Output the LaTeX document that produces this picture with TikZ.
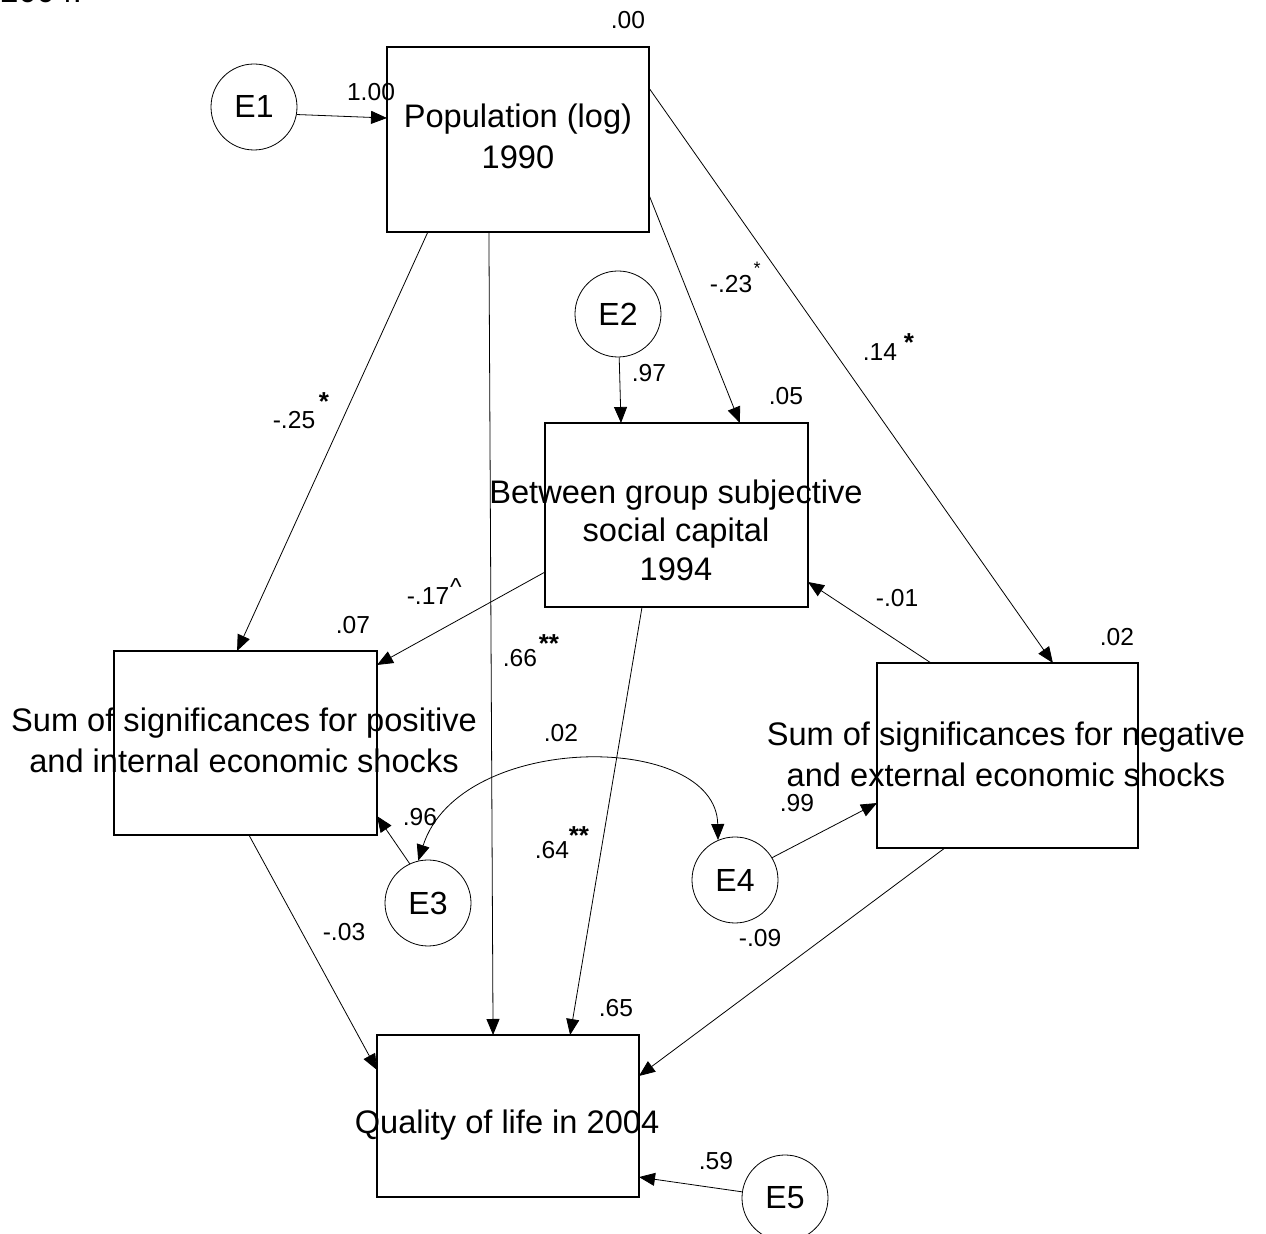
\documentclass[tikz,border=0pt]{standalone}
\usepackage{fontspec}
\setmainfont{Liberation Sans}
\usetikzlibrary{arrows.meta,calc}
\begin{document}
\begin{tikzpicture}[x=0.5pt,y=-0.5pt,
  box/.style={draw, line width=0.6pt, inner sep=0pt, outer sep=0pt, anchor=north west},
  err/.style={draw, circle, line width=0.4pt, minimum size=43pt, inner sep=0pt, font=\fontsize{16}{19}\selectfont},
  main/.style={font=\fontsize{16.3}{20.5}\selectfont, align=center, inner sep=0pt},
  lab/.style={font=\fontsize{12.3}{14}\selectfont, inner sep=0pt},
  smallstar/.style={font=\fontsize{9}{10}\selectfont, inner sep=0pt},
  boldstar/.style={font=\bfseries\fontsize{13}{14}\selectfont, inner sep=0pt},
  arr/.style={-{Triangle[length=8pt,width=6.5pt]}, line width=0.4pt},
  darr/.style={{Triangle[length=8pt,width=6.5pt]}-{Triangle[length=8pt,width=6.5pt]}, line width=0.4pt}]
\useasboundingbox (0,0) rectangle (1266,1234);
\clip (0,0) rectangle (1266,1234);

% boxes
\node[box, minimum width=131pt, minimum height=92.5pt] (pop) at (387,47) {};
\node[box, minimum width=131.5pt, minimum height=92pt] (btw) at (545,423) {};
\node[box, minimum width=131.5pt, minimum height=92pt] (pos) at (114,651) {};
\node[box, minimum width=130.5pt, minimum height=92.5pt] (neg) at (877,663) {};
\node[box, minimum width=131pt, minimum height=81pt] (qol) at (377,1035) {};

% box texts
\node[main] (popT) at (518,136) {Population (log)\\1990};
\node[main, font=\fontsize{16.3}{19.3}\selectfont] (btwT) at (676,530) {Between group subjective\\social capital\\1994};
\node[main] (posT) at (244,740) {Sum of significances for positive\\and internal economic shocks};
\node[main] (negT) at (1006,754) {Sum of significances for negative\\and external economic shocks};
\node[main] (qolT) at (507,1125) {Quality of life in 2004};
\node[main, anchor=base west] (yr) at (0,3) {2004.};

% error terms
\node[err] (E1) at (254,107) {E1};
\node[err] (E2) at (618,314) {E2};
\node[err] (E3) at (428,903) {E3};
\node[err] (E4) at (735,880) {E4};
\node[err] (E5) at (785,1198) {E5};

% paths
\draw[arr] (E1.-10) -- ($(pop.north west)!0.384!(pop.south west)$);
\draw[arr] ($(pop.south west)!0.156!(pop.south east)$) -- ($(pos.north west)!0.468!(pos.north east)$);
\draw[arr] ($(pop.south west)!0.389!(pop.south east)$) -- ($(qol.north west)!0.443!(qol.north east)$);
\draw[arr] ($(pop.north east)!0.8!(pop.south east)$) -- ($(btw.north west)!0.741!(btw.north east)$);
\draw[arr] ($(pop.north east)!0.222!(pop.south east)$) -- ($(neg.north west)!0.674!(neg.north east)$);
\draw[arr] (E2) -- ($(btw.north west)!0.289!(btw.north east)$);
\draw[arr] ($(btw.north west)!0.81!(btw.south west)$) -- ($(pos.north east)!0.076!(pos.south east)$);
\draw[arr] ($(btw.south west)!0.369!(btw.south east)$) -- ($(qol.north west)!0.737!(qol.north east)$);
\draw[arr] ($(neg.north west)!0.207!(neg.north east)$) -- ($(btw.north east)!0.864!(btw.south east)$);
\draw[arr] ($(pos.south west)!0.513!(pos.south east)$) -- ($(qol.north west)!0.216!(qol.south west)$);
\draw[arr] ($(neg.south west)!0.26!(neg.south east)$) -- ($(qol.north east)!0.253!(qol.south east)$);
\draw[arr] (E3.115) -- ($(pos.north east)!0.897!(pos.south east)$);
\draw[arr] (E4.31) -- ($(neg.north west)!0.757!(neg.south west)$);
\draw[arr] (E5) -- ($(qol.north east)!0.877!(qol.south east)$);
\draw[darr] (E3.103) .. controls (460,731) and (716,731) .. (E4.113);

% labels
\node[lab] (l00) at (628,20) {.00};
\node[lab] (l100) at (371,92) {1.00};
\node[lab] (l97) at (649,373) {.97};
\node[lab] (l23) at (731,284) {-.23};
\node[smallstar] (s23) at (757,268) {*};
\node[lab] (l14) at (880,352) {.14};
\node[boldstar] (s14) at (909,343) {*};
\node[lab] (l05) at (786,396) {.05};
\node[lab] (l25) at (294,420) {-.25};
\node[boldstar] (s25) at (324,402) {*};
\node[lab] (l17) at (428,596) {-.17};
\node[lab] (s17) at (456,587) {\^{}};
\node[lab] (l07) at (353,625) {.07};
\node[lab] (l66) at (520,658) {.66};
\node[boldstar] (s66) at (549,644) {**};
\node[lab] (l02a) at (561,733) {.02};
\node[lab] (l02b) at (1117,637) {.02};
\node[lab] (l01) at (897,598) {-.01};
\node[lab] (l96) at (420,817) {.96};
\node[lab] (l64) at (552,850) {.64};
\node[boldstar] (s64) at (579,836) {**};
\node[lab] (l99) at (797,803) {.99};
\node[lab] (l09) at (760,938) {-.09};
\node[lab] (l03) at (344,932) {-.03};
\node[lab] (l65) at (616,1008) {.65};
\node[lab] (l59) at (716,1161) {.59};
\end{tikzpicture}
\end{document}
